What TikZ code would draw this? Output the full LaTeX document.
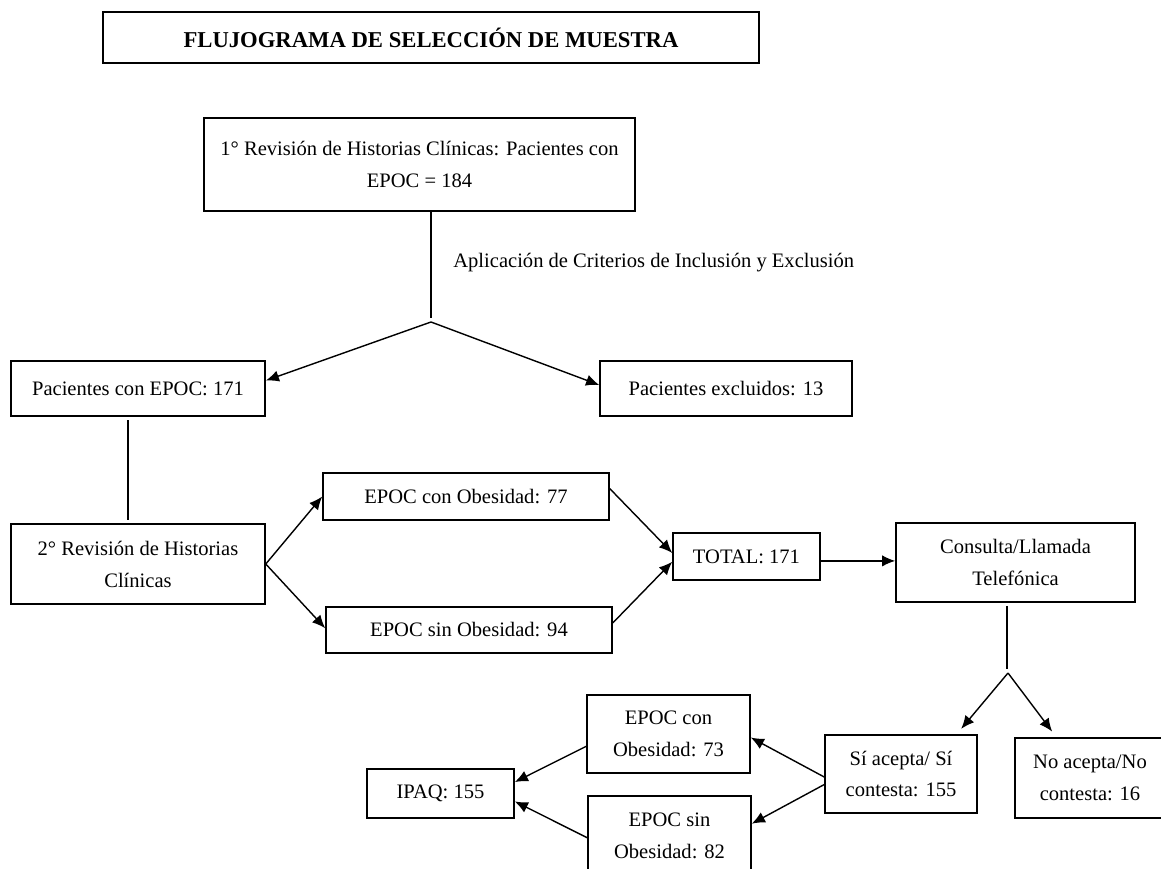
\documentclass[tikz,border=0pt]{standalone}
\usepackage{fontspec}
\setmainfont{Liberation Serif}
\usetikzlibrary{arrows.meta}
\begin{document}
\begin{tikzpicture}[x=0.02cm,y=-0.02cm,
  box/.style={draw=black, line width=0.9pt, inner sep=0pt, align=center,
    font=\fontsize{11.7pt}{18.2pt}\selectfont},
  arr/.style={draw=black, line width=0.8pt, -{Latex[length=7.5pt,width=6.5pt]}},
  lin/.style={draw=black, line width=0.8pt}]
\useasboundingbox (0,0) rectangle (1161,869);
\node[box, minimum width=13.12cm, minimum height=1.02cm,
  font=\fontsize{12.9pt}{15pt}\selectfont\bfseries] (title) at (431,37.5) {FLUJOGRAMA DE SELECCIÓN DE MUESTRA};
\node[box, minimum width=8.62cm, minimum height=1.86cm] (rev1) at (419.5,164.5) {1° Revisión de Historias Clínicas: Pacientes con\\EPOC = 184};
\coordinate (stem1) at (431,318);
\coordinate (split1) at (431,322);
\node[anchor=west, inner sep=0pt, font=\fontsize{11.7pt}{14pt}\selectfont] (crit) at (453,263) {Aplicación de Criterios de Inclusión y Exclusión};
\node[box, minimum width=5.08cm, minimum height=1.1cm] (pac) at (138,388.5) {Pacientes con EPOC: 171};
\node[box, minimum width=5.04cm, minimum height=1.1cm] (excl) at (726,388.5) {Pacientes excluidos: 13};
\node[box, minimum width=5.08cm, minimum height=1.6cm] (rev2) at (138,564) {2° Revisión de Historias\\Clínicas};
\node[box, minimum width=5.72cm, minimum height=0.94cm] (con77) at (466,496.5) {EPOC con Obesidad: 77};
\node[box, minimum width=5.72cm, minimum height=0.92cm] (sin94) at (469,630) {EPOC sin Obesidad: 94};
\node[box, minimum width=2.94cm, minimum height=0.94cm] (total) at (746.5,556.5) {TOTAL: 171};
\node[box, minimum width=4.78cm, minimum height=1.58cm] (tel) at (1015.5,562.5) {Consulta/Llamada\\Telefónica};
\coordinate (stem2) at (1007,669);
\coordinate (split2) at (1008,673);
\node[box, minimum width=3.04cm, minimum height=1.56cm] (si) at (901,774) {Sí acepta/ Sí\\contesta: 155};
\node[box, minimum width=3.0cm, minimum height=1.6cm] (no) at (1090,778) {No acepta/No\\contesta: 16};
\node[box, minimum width=3.26cm, minimum height=1.56cm] (con73) at (668.5,734) {EPOC con\\Obesidad: 73};
\node[box, minimum width=3.26cm, minimum height=1.6cm] (sin82) at (669.5,836) {EPOC sin\\Obesidad: 82};
\node[box, minimum width=2.94cm, minimum height=0.98cm] (ipaq) at (440.5,793.5) {IPAQ: 155};
% first review
\draw[lin] (rev1.south -| stem1) -- (stem1);
\draw[arr] (split1) -- ([yshift=4.5pt]pac.east);
\draw[arr] (split1) -- ([yshift=2pt]excl.west);
\draw[lin, shorten <=2pt, shorten >=2pt] ([xshift=-5.7pt]pac.south) -- ([xshift=-5.7pt]rev2.north);
% second review
\draw[arr] (rev2.east) -- (con77.west);
\draw[arr] (rev2.east) -- ([yshift=1pt]sin94.west);
\draw[arr] ([yshift=4.5pt]con77.east) -- ([yshift=2pt]total.west);
\draw[arr] ([yshift=4pt]sin94.east) -- ([yshift=-3pt]total.west);
\draw[arr] ([yshift=-2.5pt]total.east) -- ([yshift=-2.5pt]total.east -| tel.west);
% phone call
\draw[lin] (tel.south -| stem2) ++(0,3) -- (stem2);
\draw[arr, shorten >=4pt] (split2) -- ([xshift=-12pt]si.north east);
\draw[arr, shorten >=4pt] (split2) -- ([xshift=24pt]no.north west);
\draw[arr] ([yshift=-1.7pt]si.west) -- ([yshift=-2pt]con73.east);
\draw[arr] ([yshift=-6pt]si.west) -- ([yshift=7pt]sin82.east);
\draw[arr] ([yshift=-7pt]con73.west) -- ([yshift=6.5pt]ipaq.east);
\draw[arr] ([yshift=-1pt]sin82.west) -- ([yshift=-4.5pt]ipaq.east);
\end{tikzpicture}
\end{document}
